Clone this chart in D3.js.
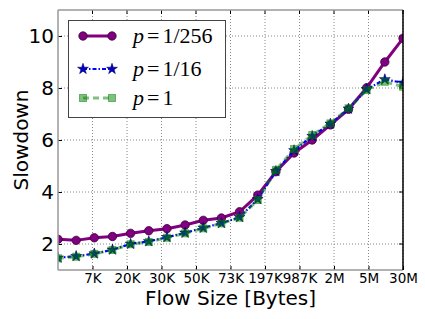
<!DOCTYPE html>
<html><head><meta charset="utf-8">
<script src="https://cdn.jsdelivr.net/npm/d3@7"></script>
<style>body{margin:0;background:#fff}svg{display:block}</style>
</head><body><svg id="c" width="425" height="319"></svg>
<script>
const xTickLabels = ["7K","20K","30K","50K","73K","197K","987K","2M","5M","30M"];
const yTicks = [2,4,6,8,10];
const pointIndex = d3.range(20);
const p256 = [2.18,2.14,2.24,2.29,2.41,2.51,2.59,2.73,2.91,3.00,3.24,3.88,4.78,5.50,6.00,6.58,7.18,8.01,9.00,9.91];
const p16  = [1.47,1.53,1.63,1.78,2.00,2.10,2.26,2.43,2.62,2.80,3.03,3.72,4.80,5.60,6.15,6.62,7.20,7.95,8.33,8.20];
const p1   = [1.45,1.51,1.62,1.77,1.99,2.08,2.24,2.41,2.60,2.79,3.01,3.69,4.85,5.65,6.19,6.64,7.22,7.92,8.24,8.05];
const seriesNames = [["p","1/256"],["p","1/16"],["p","1"]];

const svg = d3.select("#c");
const L=58,R=403,T=10,B=270;
const x = d3.scaleLinear().domain([0,19]).range([L,R]);
const y = d3.scaleLinear().domain([1,11]).range([B,T]);
const xTickPos = xTickLabels.map((d,i)=>(i+1)*19/xTickLabels.length);

// grid
const g = svg.append("g");
g.selectAll(".gx").data(xTickPos).join("line")
 .attr("x1",d=>x(d)).attr("x2",d=>x(d)).attr("y1",T).attr("y2",B)
 .attr("stroke","#888").attr("stroke-width",1).attr("stroke-dasharray","1,2");
g.selectAll(".gy").data(yTicks).join("line")
 .attr("x1",L).attr("x2",R).attr("y1",d=>y(d)).attr("y2",d=>y(d))
 .attr("stroke","#888").attr("stroke-width",1).attr("stroke-dasharray","1,2");

// axes
const xAxis = d3.axisBottom(x).tickValues(xTickPos).tickFormat((d,i)=>xTickLabels[i]).tickSize(-4).tickPadding(3);
const ax = svg.append("g").attr("transform",`translate(0,${B})`).call(xAxis);
ax.select(".domain").remove();
ax.selectAll("text").attr("font-family","DejaVu Sans").attr("font-size",13.5).attr("fill","#000");
ax.selectAll("line").attr("stroke","#000");
const yAxis = d3.axisLeft(y).tickValues(yTicks).tickSize(-4).tickPadding(4);
const ay = svg.append("g").attr("transform",`translate(${L},0)`).call(yAxis);
ay.select(".domain").remove();
ay.selectAll("text").attr("font-family","DejaVu Sans").attr("font-size",20).attr("fill","#000");
ay.selectAll("line").attr("stroke","#000");
// right ticks
svg.selectAll(".rt").data(yTicks).join("line").attr("x1",R-4).attr("x2",R).attr("y1",d=>y(d)).attr("y2",d=>y(d)).attr("stroke","#000");
svg.selectAll(".tt").data(xTickPos).join("line").attr("x1",d=>x(d)).attr("x2",d=>x(d)).attr("y1",T).attr("y2",T+4).attr("stroke","#000");

// series
const line = d3.line().x((d,i)=>x(pointIndex[i])).y(d=>y(d));
const clip = svg.append("clipPath").attr("id","clp").append("rect").attr("x",L).attr("y",T).attr("width",R-L).attr("height",B-T);
const plot = svg.append("g").attr("clip-path","url(#clp)");

// purple
plot.append("path").attr("d",line(p256)).attr("fill","none").attr("stroke","#800080").attr("stroke-width",3);
plot.selectAll(".c").data(p256).join("circle").attr("cx",(d,i)=>x(pointIndex[i])).attr("cy",d=>y(d)).attr("r",4.2)
 .attr("fill","#800080").attr("stroke","#3a003a").attr("stroke-width",0.8);
// blue
const star = d3.symbol().type(d3.symbolStar).size(36);
plot.append("path").attr("d",line(p16)).attr("fill","none").attr("stroke","#0000ff").attr("stroke-width",2.2).attr("stroke-dasharray","4,2,1.5,2");
plot.selectAll(".s").data(p16).join("path").attr("d",star).attr("transform",(d,i)=>`translate(${x(pointIndex[i])},${y(d)})`)
 .attr("fill","#0000cc").attr("stroke","#000060").attr("stroke-width",0.6);
// green
plot.append("path").attr("d",line(p1)).attr("fill","none").attr("stroke","#008000").attr("stroke-opacity",0.5).attr("stroke-width",3).attr("stroke-dasharray","6,4");
plot.selectAll(".q").data(p1).join("rect").attr("x",(d,i)=>x(pointIndex[i])-3.5).attr("y",d=>y(d)-3.5).attr("width",7).attr("height",7)
 .attr("fill","#008000").attr("fill-opacity",0.5).attr("stroke","#008000").attr("stroke-opacity",0.5).attr("stroke-width",1);

// frame
svg.append("line").attr("x1",L).attr("x2",L).attr("y1",T).attr("y2",B).attr("stroke","#999").attr("stroke-width",1.5);
svg.append("line").attr("x1",L).attr("x2",R).attr("y1",B).attr("y2",B).attr("stroke","#999").attr("stroke-width",1.5);
svg.append("line").attr("x1",L).attr("x2",R).attr("y1",T).attr("y2",T).attr("stroke","#999").attr("stroke-width",1.5);
svg.append("line").attr("x1",R).attr("x2",R).attr("y1",T).attr("y2",B).attr("stroke","#000").attr("stroke-width",1.5);

// legend
const lg = svg.append("g");
lg.append("rect").attr("x",68.5).attr("y",20.5).attr("width",157).attr("height",97).attr("fill","#fff").attr("stroke","#444").attr("stroke-width",1);
const ly = [36,69,98];
const lx1=83, lx2=112;
lg.append("line").attr("x1",lx1).attr("x2",lx2).attr("y1",ly[0]).attr("y2",ly[0]).attr("stroke","#800080").attr("stroke-width",3);
lg.selectAll(".lc").data([lx1,lx2]).join("circle").attr("cx",d=>d).attr("cy",ly[0]).attr("r",4.2).attr("fill","#800080").attr("stroke","#3a003a").attr("stroke-width",0.8);
lg.append("line").attr("x1",lx1).attr("x2",lx2).attr("y1",ly[1]).attr("y2",ly[1]).attr("stroke","#0000ff").attr("stroke-width",2.2).attr("stroke-dasharray","4,2,1.5,2");
lg.selectAll(".ls").data([lx1,lx2]).join("path").attr("d",star).attr("transform",d=>`translate(${d},${ly[1]})`).attr("fill","#0000cc").attr("stroke","#000060").attr("stroke-width",0.6);
lg.append("line").attr("x1",lx1).attr("x2",lx2).attr("y1",ly[2]).attr("y2",ly[2]).attr("stroke","#008000").attr("stroke-opacity",0.5).attr("stroke-width",3).attr("stroke-dasharray","6,4");
lg.selectAll(".lq").data([lx1,lx2]).join("rect").attr("x",d=>d-3.5).attr("y",ly[2]-3.5).attr("width",7).attr("height",7)
 .attr("fill","#008000").attr("fill-opacity",0.5).attr("stroke","#008000").attr("stroke-opacity",0.5);
seriesNames.forEach((s,i)=>{
  const t = lg.append("text").attr("x",133).attr("y",ly[i]+7).attr("font-family","Liberation Serif").attr("font-size",22).attr("fill","#000");
  t.append("tspan").attr("font-style","italic").text(s[0]);
  t.append("tspan").attr("dx",3).text("=");
  t.append("tspan").attr("dx",3).text(s[1]);
});

// axis titles
svg.append("text").attr("x",(L+R)/2).attr("y",305).attr("text-anchor","middle").attr("font-family","DejaVu Sans").attr("font-size",20).text("Flow Size [Bytes]");
svg.append("text").attr("transform",`translate(28,${(T+B)/2}) rotate(-90)`).attr("text-anchor","middle").attr("font-family","DejaVu Sans").attr("font-size",20).text("Slowdown");
</script></body></html>
